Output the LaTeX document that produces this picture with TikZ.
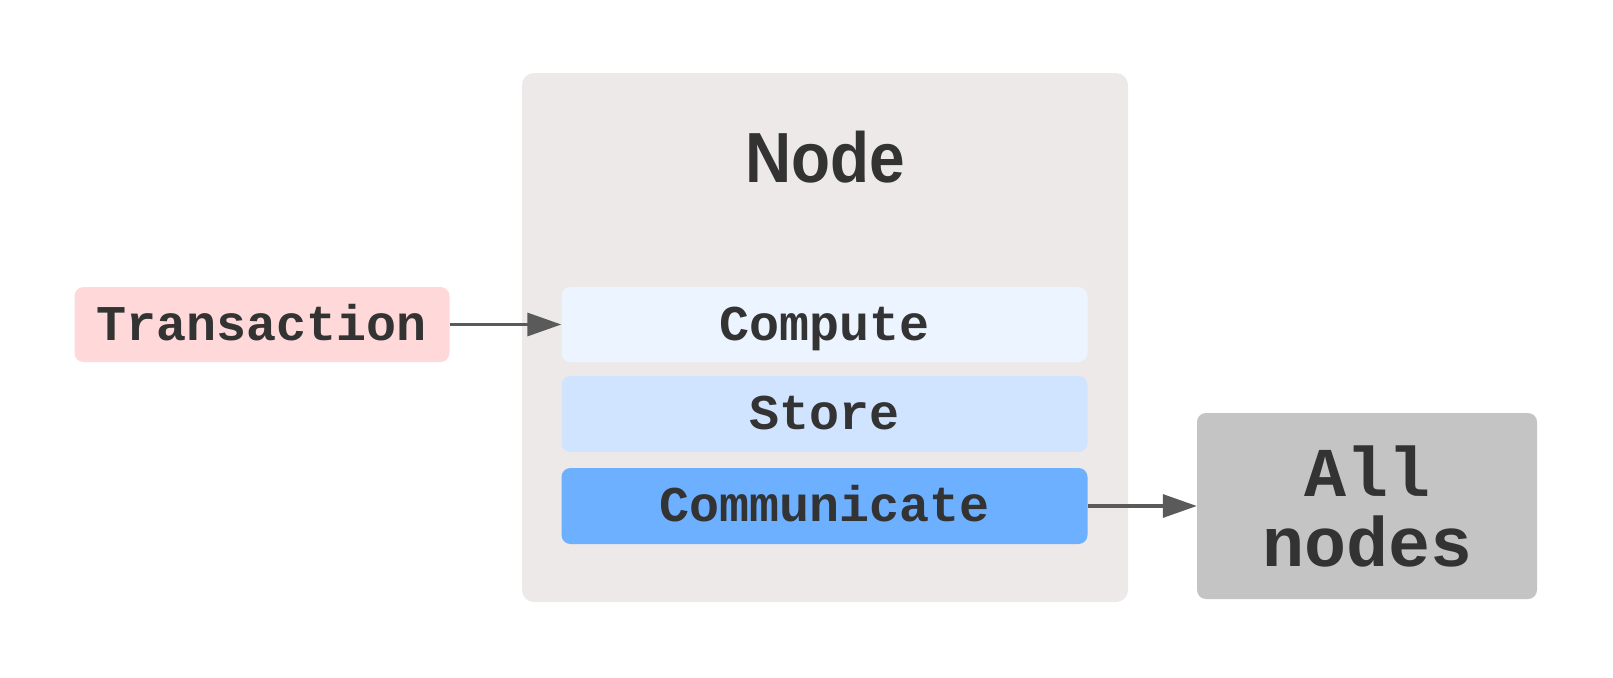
\documentclass[tikz,border=0pt]{standalone}
\usepackage{fontspec}
\usetikzlibrary{arrows.meta}
\newfontfamily\monob{Liberation Mono}[BoldFont={Liberation Mono Bold}]
\newfontfamily\sansb{Liberation Sans}[BoldFont={Liberation Sans Bold}]
\definecolor{txt}{HTML}{333333}
\definecolor{arr}{HTML}{5A5A5A}
\definecolor{nodebg}{HTML}{EDE9E8}
\definecolor{txbg}{HTML}{FFD9D9}
\definecolor{compbg}{HTML}{EBF4FF}
\definecolor{storebg}{HTML}{D0E4FF}
\definecolor{commbg}{HTML}{6CB0FF}
\definecolor{allbg}{HTML}{C4C4C4}
\tikzset{
  box/.style={rounded corners=9pt, inner sep=0pt, text=txt, font=\monob\bfseries\fontsize{50}{50}\selectfont},
  onebox/.style={box, text height=36pt, text depth=5pt},
  conn/.style={draw=arr, line width=3.2pt, -{Triangle[length=34pt,width=23pt]}}
}
\begin{document}
\begin{tikzpicture}[x=1pt,y=-1pt]
\useasboundingbox (0,0) rectangle (1613,677);
% container
\path[fill=nodebg, rounded corners=12pt] (522,73) rectangle (1128,602);
\node[text=txt, inner sep=0pt, anchor=base] (title) at (825,182) {\scalebox{0.9}[1]{\sansb\bfseries\fontsize{71}{71}\selectfont Node}};
% boxes
\node[onebox, fill=txbg, minimum width=375pt, minimum height=75pt] (tx) at (262,324.5) {Transaction};
\node[onebox, fill=compbg, minimum width=526pt, minimum height=75pt] (comp) at (824.5,324.5) {Compute};
\node[onebox, fill=storebg, minimum width=526pt, minimum height=76pt] (store) at (824.5,414) {Store};
\node[onebox, fill=commbg, minimum width=526pt, minimum height=76pt] (comm) at (824.5,506) {Communicate};
\node[box, fill=allbg, minimum width=340pt, minimum height=186pt, align=center, font=\monob\bfseries\fontsize{70}{70}\selectfont] (all) at (1367,506) {All\\nodes};
% connectors
\draw[conn] (tx.east) -- (comp.west);
\draw[conn] (comm.east) -- (all.west);
\end{tikzpicture}
\end{document}
